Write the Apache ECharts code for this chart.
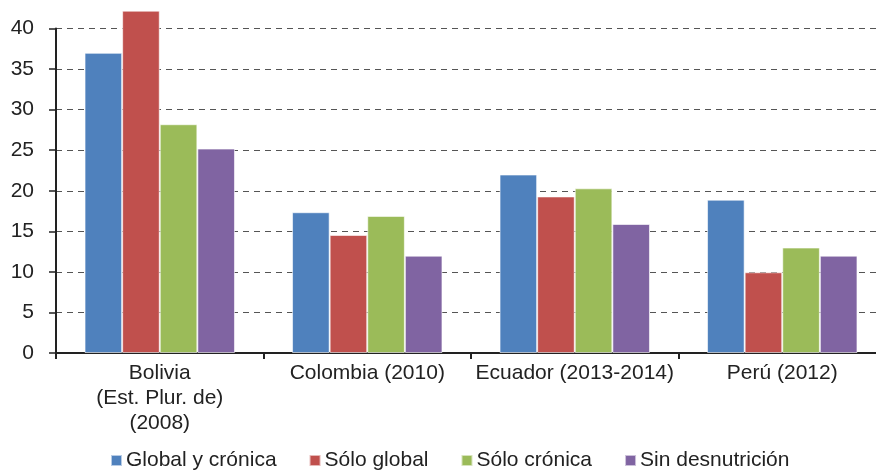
<!DOCTYPE html>
<html>
<head>
<meta charset="utf-8">
<script src="https://cdn.jsdelivr.net/npm/echarts@6/dist/echarts.min.js"></script>
<style>
  html, body { margin: 0; padding: 0; background: #fff; }
  #chart { width: 876px; height: 470px; }
</style>
</head>
<body>
<div id="chart"></div>
<script>
  // datos
  var categories = ['Bolivia\n(Est. Plur. de)\n(2008)', 'Colombia (2010)', 'Ecuador (2013-2014)', 'Perú (2012)'];
  var seriesNames = ['Global y crónica', 'Sólo global', 'Sólo crónica', 'Sin desnutrición'];
  var globalYCronica = [37.0, 17.35, 22.0, 18.9];
  var soloGlobal = [42.2, 14.55, 19.3, 9.95];
  var soloCronica = [28.2, 16.9, 20.3, 13.0];
  var sinDesnutricion = [25.2, 12.0, 15.9, 12.0];
  var yTicks = [0, 5, 10, 15, 20, 25, 30, 35, 40];

  var colors = ['#4F81BD', '#C0504D', '#9BBB59', '#8064A2'];
  var values = [globalYCronica, soloGlobal, soloCronica, sinDesnutricion];

  var series = [];
  for (var i = 0; i < seriesNames.length; i++) {
    series.push({
      name: seriesNames[i],
      type: 'bar',
      data: values[i],
      barGap: '0%',
      barCategoryGap: '27.5%',
      clip: false,
      itemStyle: {
        color: colors[i],
        borderColor: 'rgba(255,255,255,0.6)',
        borderWidth: 1
      }
    });
  }

  var myChart = echarts.init(document.getElementById('chart'));
  myChart.setOption({
    animation: false,
    color: colors,
    textStyle: {
      fontFamily: 'Liberation Sans, Arial, sans-serif'
    },
    grid: {
      left: 56,
      right: -10,
      top: 28.5,
      bottom: 117,
      outerBoundsMode: 'none',
      containLabel: false
    },
    legend: {
      top: 450,
      left: 110,
      padding: 0,
      itemWidth: 11,
      itemHeight: 11,
      itemGap: 32,
      icon: 'rect',
      textStyle: {
        fontSize: 21,
        color: '#222',
        padding: [0, 0, 0, -1]
      },
      data: seriesNames
    },
    xAxis: {
      type: 'category',
      data: categories,
      axisLine: {
        lineStyle: { color: '#222', width: 2 }
      },
      axisTick: {
        show: true,
        length: 6,
        lineStyle: { color: '#222', width: 2 }
      },
      axisLabel: {
        interval: 0,
        fontSize: 21,
        color: '#222',
        lineHeight: 25,
        margin: 8
      }
    },
    yAxis: {
      type: 'value',
      min: yTicks[0],
      max: yTicks[yTicks.length - 1],
      interval: 5,
      axisLine: {
        show: true,
        lineStyle: { color: '#222', width: 2 }
      },
      axisTick: {
        show: true,
        length: 7,
        lineStyle: { color: '#222', width: 1.5 }
      },
      axisLabel: {
        fontSize: 21,
        color: '#222',
        margin: 22
      },
      splitLine: {
        lineStyle: {
          type: [6, 5],
          color: '#555',
          width: 1
        }
      }
    },
    series: series
  });
</script>
</body>
</html>
